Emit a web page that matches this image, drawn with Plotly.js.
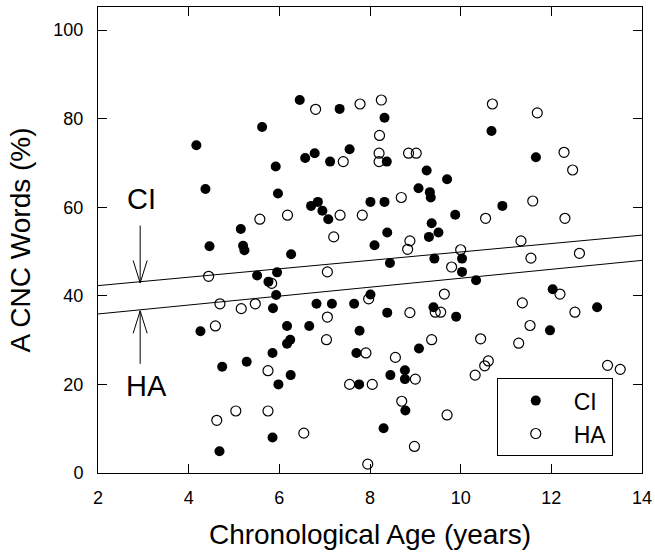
<!DOCTYPE html>
<html>
<head>
<meta charset="utf-8">
<script src="https://cdn.plot.ly/plotly-3.0.1.min.js"></script>
<style>html,body{margin:0;padding:0;background:#fff;}#chart{width:655px;height:556px;}</style>
</head>
<body>
<div id="chart"></div>
<script>
// CI (cochlear implant) group: age (years), A CNC words (%)
var ciAge = [5.62,4.17,5.92,4.37,5.97,5.15,4.46,5.20,5.23,5.51,5.95,6.45,7.33,8.32,8.37,7.55,6.78,6.57,7.12,9.25,
             9.70,9.07,9.32,9.34,8.01,8.32,6.85,6.70,6.95,7.08,9.36,9.30,9.51,8.38,8.10,6.26,8.44,9.42,10.68,11.66,
             10.92,9.88,10.03,10.03,10.34,5.76,5.93,5.86,4.26,5.85,4.74,5.28,5.98,5.85,4.68,8.01,6.82,7.16,7.65,8.38,
             9.40,6.17,6.66,7.77,6.24,6.17,9.08,7.70,8.77,8.77,8.45,6.25,7.76,8.78,8.30,12.03,9.90,13.01,11.97];
var ciScore = [78.1,74.0,69.2,64.1,63.1,55.1,51.2,51.3,50.3,44.6,45.3,84.2,82.2,80.2,70.3,73.1,72.2,71.1,70.3,68.3,
               66.3,64.3,63.4,62.2,61.2,61.2,61.2,60.3,59.2,57.3,56.4,53.3,54.3,54.3,51.4,49.4,47.4,48.4,77.2,71.3,
               60.3,58.3,48.4,45.4,43.5,43.2,40.2,37.2,32.0,27.1,24.0,25.1,20.0,8.0,4.9,40.3,38.2,38.2,38.2,36.2,
               37.4,33.2,33.2,32.1,30.1,29.2,28.1,27.1,23.2,21.2,22.1,22.1,20.0,14.1,10.1,41.5,35.3,37.4,32.2];
// HA (hearing aid) group
var haAge = [5.57,4.44,6.80,7.78,8.25,8.21,8.20,8.20,8.85,9.02,7.41,8.69,6.18,7.34,7.83,7.20,8.88,8.83,9.80,7.06,
             10.70,11.69,12.28,12.47,11.59,10.55,12.30,11.33,10.00,11.55,12.62,5.83,4.69,5.16,5.47,4.59,5.75,4.62,5.04,5.75,
             7.97,9.64,7.06,8.88,9.44,9.56,7.04,9.36,7.91,8.56,9.00,7.55,8.05,8.70,9.70,6.54,8.98,7.95,12.19,11.36,
             12.52,11.53,10.44,11.28,10.61,10.53,10.32,13.24,13.52];
var haScore = [57.3,44.4,82.1,83.3,84.2,76.2,72.2,70.3,72.2,72.2,70.3,62.2,58.2,58.2,58.2,53.3,52.4,50.5,46.5,45.4,
               83.3,81.3,72.4,68.4,61.4,57.5,57.5,52.4,50.4,48.5,49.6,42.8,38.2,37.1,38.2,33.2,23.1,11.9,14.0,14.0,
               39.3,40.4,35.2,36.2,36.3,36.3,30.1,30.1,27.1,26.1,21.2,20.0,20.0,16.2,13.1,9.0,6.0,2.0,40.4,38.4,
               36.3,33.3,30.3,29.3,25.3,24.2,22.1,24.3,23.4];
// regression lines (end points)
var lineAge = [2, 14];
var ciFit = [42.3, 53.7];
var haFit = [35.9, 48.0];
// arrow annotations: [x, tipY, tailY]
var ciArrow = [2.93, 42.9, 56.2];
var haArrow = [2.93, 36.6, 24.3];
var ciLabel = [2.95, 61.9];
var haLabel = [3.08, 19.7];
var xTicks = [2,4,6,8,10,12,14];
var yTicks = [0,20,40,60,80,100];

var FONT = "Arial, 'Liberation Sans', sans-serif";

var traces = [
  {x: lineAge, y: ciFit, mode: 'lines', line: {color: '#000', width: 1}, showlegend: false, hoverinfo: 'skip'},
  {x: lineAge, y: haFit, mode: 'lines', line: {color: '#000', width: 1}, showlegend: false, hoverinfo: 'skip'},
  {x: ciAge, y: ciScore, mode: 'markers', name: 'CI',
   marker: {symbol: 'circle', size: 10, color: '#000', line: {color: '#000', width: 0}}},
  {x: haAge, y: haScore, mode: 'markers', name: 'HA',
   marker: {symbol: 'circle-open', size: 10, color: '#000', line: {color: '#000', width: 1.2}}}
];

function arrowParts(a, dir) {
  // dir = -1 for arrow pointing down (barbs above tip), +1 for pointing up
  var base = {xref: 'x', yref: 'y', text: '', showarrow: true, arrowhead: 0,
              arrowwidth: 1, arrowcolor: '#000', standoff: 0, startstandoff: 0};
  var shaft = Object.assign({}, base, {x: a[0], y: a[1], axref: 'x', ayref: 'y', ax: a[0], ay: a[2]});
  var barbL = Object.assign({}, base, {x: a[0], y: a[1], axref: 'pixel', ayref: 'pixel', ax: -7.5, ay: dir * 24});
  var barbR = Object.assign({}, base, {x: a[0], y: a[1], axref: 'pixel', ayref: 'pixel', ax: 7.5, ay: dir * 24});
  return [shaft, barbL, barbR];
}

var layout = {
  width: 655, height: 556,
  margin: {l: 98, r: 13, t: 7, b: 83},
  paper_bgcolor: '#fff', plot_bgcolor: '#fff',
  font: {family: FONT, color: '#000'},
  showlegend: true,
  legend: {x: 0.733, y: 0.2035, xanchor: 'left', yanchor: 'top',
           bgcolor: '#fff', bordercolor: '#000', borderwidth: 1,
           font: {family: FONT, size: 23, color: '#000'}, itemwidth: 66},
  xaxis: {range: [2, 14], tickvals: xTicks, ticktext: xTicks.map(String),
          ticks: 'inside', ticklen: 9, tickcolor: '#000', tickwidth: 1,
          showline: true, linecolor: '#000', linewidth: 1, mirror: 'ticks',
          showgrid: false, zeroline: false,
          tickfont: {family: FONT, size: 18, color: '#000'}, ticklabelstandoff: 8,
          title: {text: 'Chronological Age (years)', font: {family: FONT, size: 28, color: '#000'}, standoff: 17}},
  yaxis: {range: [0, 105.2], tickvals: yTicks, ticktext: yTicks.map(String),
          ticks: 'inside', ticklen: 9, tickcolor: '#000', tickwidth: 1,
          showline: true, linecolor: '#000', linewidth: 1, mirror: 'ticks',
          showgrid: false, zeroline: false,
          tickfont: {family: FONT, size: 18, color: '#000'}, ticklabelstandoff: 10,
          title: {text: 'A CNC Words (%)', font: {family: FONT, size: 28, color: '#000'}, standoff: 14}},
  annotations: [].concat(
    arrowParts(ciArrow, -1),
    arrowParts(haArrow, 1),
    [
      {x: ciLabel[0], y: ciLabel[1], xref: 'x', yref: 'y', text: 'CI', showarrow: false,
       font: {family: FONT, size: 29, color: '#000'}},
      {x: haLabel[0], y: haLabel[1], xref: 'x', yref: 'y', text: 'HA', showarrow: false,
       font: {family: FONT, size: 29, color: '#000'}}
    ])
};

Plotly.newPlot('chart', traces, layout, {staticPlot: true, displayModeBar: false});
</script>
</body>
</html>
